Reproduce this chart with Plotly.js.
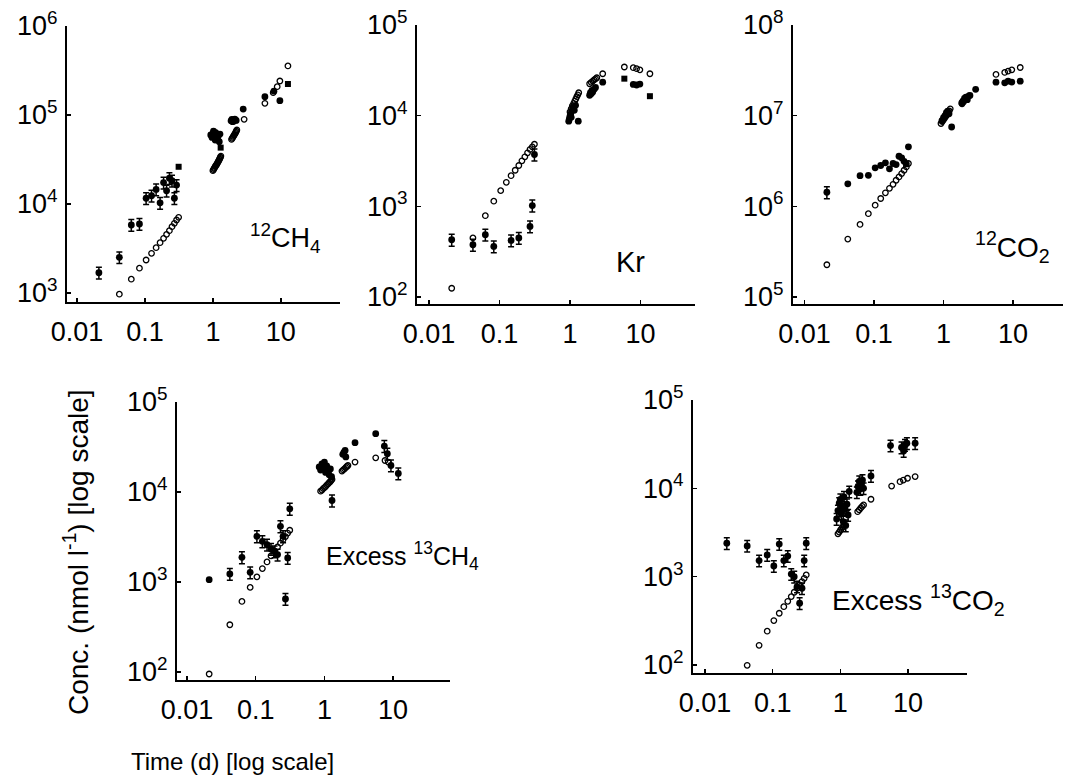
<!DOCTYPE html>
<html>
<head>
<meta charset="utf-8">
<script src="https://cdn.plot.ly/plotly-3.0.1.min.js"></script>
<style>
  html, body { margin: 0; padding: 0; background: #fff; }
  #chart { width: 1065px; height: 781px; }
</style>
</head>
<body>
<div id="chart"></div>
<script>
// ---------- data: time (d) and concentration (nmol l-1) ----------

// 12CH4
const ch4OpenT   = [0.042, 0.063, 0.083, 0.104, 0.125, 0.146, 0.167, 0.188, 0.208, 0.229, 0.25, 0.271, 0.292, 0.313,
                    1.0, 1.02, 1.04, 1.06, 1.08, 1.1, 1.13, 1.15, 1.17, 1.19, 1.21, 1.23, 1.25, 1.27, 1.29, 1.31,
                    1.88, 1.92, 1.96, 2.0, 2.04, 2.08, 2.13, 2.17, 2.21, 2.25,
                    2.88, 5.82, 7.71, 8.83, 9.67, 12.7];
const ch4OpenC   = [970, 1430, 1900, 2350, 2790, 3230, 3680, 4120, 4560, 5010, 5560, 6070, 6610, 7080,
                    23700, 24300, 25000, 25600, 26300, 26900, 27600, 28300, 29000, 29700, 30400, 31100, 31900, 32700, 33600, 34600,
                    53200, 54500, 56000, 57500, 59000, 60500, 62200, 64000, 66000, 67800,
                    89400, 135200, 178000, 208000, 241000, 356000];
const ch4ErrT    = [0.021, 0.042, 0.063, 0.083, 0.104, 0.125, 0.146, 0.167, 0.188, 0.208, 0.229, 0.25, 0.271, 0.292];
const ch4ErrC    = [1690, 2520, 5810, 5960, 11600, 12400, 14600, 10300, 17400, 14100, 19500, 18300, 11600, 16300];
const ch4FillT   = [0.93, 0.97, 1.0, 1.02, 1.05, 1.08, 1.1, 1.13, 1.17, 1.2, 1.24, 1.27,
                    1.85, 1.9, 1.95, 2.0, 2.05, 2.1, 2.2, 2.79, 5.82, 7.9, 9.67];
const ch4FillC   = [59600, 56000, 62200, 66000, 57000, 52300, 63500, 60000, 55000, 58500, 50100, 61000,
                    86000, 89400, 84100, 88000, 85500, 90000, 87000, 116700, 160600, 185000, 145000];
const ch4SqT     = [0.313, 1.3, 12.7];
const ch4SqC     = [26200, 43000, 223000];

// Kr
const krOpenT    = [0.021, 0.042, 0.063, 0.083, 0.104, 0.125, 0.146, 0.167, 0.188, 0.208, 0.229, 0.25, 0.271, 0.292, 0.313,
                    1.0, 1.04, 1.08, 1.13, 1.17, 1.21, 1.25, 1.29, 1.33,
                    1.9, 2.0, 2.1, 2.2, 2.3, 2.4, 2.91, 5.9, 7.9, 8.8, 9.8, 13.6];
const krOpenC    = [125, 448, 789, 1140, 1490, 1840, 2180, 2500, 2820, 3180, 3520, 3890, 4240, 4530, 4840,
                    11000, 11900, 12800, 13700, 14500, 15300, 16200, 17000, 17900,
                    22500, 23300, 24100, 24800, 25500, 26200, 29000, 34400, 33800, 33000, 32000, 29000];
const krErrT     = [0.021, 0.042, 0.063, 0.083, 0.146, 0.188, 0.271, 0.292, 0.313];
const krErrC     = [428, 377, 487, 361, 421, 448, 601, 1020, 3730];
const krFillT    = [0.96, 0.98, 1.0, 1.02, 1.04, 1.06, 1.1, 1.15, 1.2, 1.31,
                    1.9, 1.95, 2.0, 2.05, 2.1, 2.2, 2.3, 2.91, 7.9, 8.8, 9.8];
const krFillC    = [8700, 9300, 9900, 10400, 9600, 11200, 12300, 11500, 13000, 8700,
                    16800, 18000, 17400, 19000, 18300, 19500, 20500, 23400, 22100, 21800, 22300];
const krSqT      = [5.9, 13.6];
const krSqC      = [25600, 16400];

// 12CO2
const co2OpenT   = [0.021, 0.042, 0.063, 0.083, 0.104, 0.125, 0.146, 0.167, 0.188, 0.208, 0.229, 0.25, 0.271, 0.292, 0.313,
                    0.92, 0.96, 1.0, 1.04, 1.08, 1.13, 1.17, 1.21, 1.25,
                    1.85, 1.95, 2.05, 2.15, 2.3, 5.69, 7.6, 8.5, 9.6, 12.7];
const co2OpenC   = [227000, 436000, 632000, 830000, 1030000, 1220000, 1410000, 1580000, 1750000, 1940000, 2110000, 2300000, 2500000, 2720000, 2970000,
                    8200000, 8600000, 9000000, 9400000, 9800000, 10300000, 10800000, 11300000, 11900000,
                    13500000, 14200000, 15000000, 15700000, 16500000, 28500000, 30000000, 31000000, 32000000, 34000000];
const co2ErrT    = [0.021];
const co2ErrC    = [1430000];
const co2FillT   = [0.042, 0.063, 0.083, 0.104, 0.125, 0.146, 0.167, 0.188, 0.208, 0.229, 0.25, 0.271, 0.292, 0.313,
                    0.95, 1.0, 1.05, 1.1, 1.15, 1.2, 1.31,
                    1.83, 1.9, 2.0, 2.1, 2.2, 2.4, 2.9, 5.69, 7.6, 8.5, 9.6, 12.7];
const co2FillC   = [1770000, 2180000, 2200000, 2660000, 2820000, 3020000, 2590000, 2970000, 2890000, 3570000, 3430000, 3140000, 2940000, 4530000,
                    8800000, 9500000, 10000000, 10800000, 11200000, 10500000, 7500000,
                    13800000, 14500000, 15500000, 16000000, 15000000, 16700000, 19500000, 23400000, 23000000, 24000000, 23500000, 24000000];

// Excess 13CH4
const xch4OpenT  = [0.021, 0.042, 0.063, 0.083, 0.104, 0.125, 0.146, 0.167, 0.188, 0.208, 0.229, 0.25, 0.271, 0.292, 0.313,
                    0.88, 0.92, 0.96, 1.0, 1.04, 1.08, 1.13, 1.17, 1.21, 1.25, 1.29,
                    1.8, 1.88, 1.96, 2.04, 2.12, 2.2, 2.79, 5.58, 7.62, 8.5];
const xch4OpenC  = [95, 335, 608, 871, 1140, 1410, 1670, 1950, 2200, 2450, 2700, 2950, 3200, 3500, 3760,
                    10200, 10500, 10900, 11200, 11500, 11900, 12300, 12700, 13000, 13400, 13800,
                    17100, 17600, 18100, 18700, 19200, 19700, 21500, 24000, 22400, 21500];
const xch4ErrT   = [0.042, 0.063, 0.083, 0.104, 0.125, 0.146, 0.167, 0.188, 0.208, 0.229, 0.25, 0.271, 0.292, 0.313,
                    1.29, 7.45, 8.24, 9.3, 11.9];
const xch4ErrC   = [1228, 1880, 1280, 3220, 2830, 2600, 2330, 2190, 2015, 4160, 3220, 647, 1850, 6500,
                    8040, 32400, 26600, 19700, 16100];
const xch4FillT  = [0.021, 0.84, 0.88, 0.92, 0.96, 1.0, 1.04, 1.08, 1.13, 1.17, 1.22, 1.27,
                    1.85, 1.92, 2.0, 2.05, 2.79, 5.58];
const xch4FillC  = [1061, 19000, 17500, 20500, 18500, 21500, 16500, 19500, 17000, 15500, 18000, 14800,
                    26200, 27500, 29000, 24500, 35300, 44500];

// Excess 13CO2
const xco2OpenT  = [0.042, 0.063, 0.083, 0.104, 0.125, 0.146, 0.167, 0.188, 0.208, 0.229, 0.25, 0.271, 0.292, 0.313,
                    0.92, 0.96, 1.0, 1.04, 1.08, 1.13,
                    1.8, 1.9, 2.0, 2.1, 2.2, 2.83, 5.71, 7.6, 8.5, 9.8, 12.7];
const xco2OpenC  = [99, 167, 241, 318, 385, 457, 526, 594, 666, 739, 806, 879, 958, 1045,
                    3050, 3200, 3350, 3500, 3650, 3800,
                    5440, 5700, 6000, 6250, 6490, 7520, 10600, 11900, 12400, 13000, 13600];
const xco2ErrT   = [0.021, 0.042, 0.063, 0.083, 0.104, 0.125, 0.146, 0.167, 0.188, 0.208, 0.229, 0.25, 0.271, 0.292, 0.313,
                    0.88, 0.92, 0.96, 1.0, 1.03, 1.06, 1.1, 1.13, 1.17, 1.2, 1.25, 1.3, 1.35,
                    1.75, 1.82, 1.9, 1.97, 2.05, 2.12, 2.2, 2.83,
                    5.5, 8.0, 8.6, 9.0, 9.6, 12.7];
const xco2ErrC   = [2390, 2230, 1520, 1760, 1320, 2340, 1520, 1710, 1070, 1000, 771, 500, 739, 1520, 2390,
                    4500, 5600, 6800, 7500, 5200, 6200, 4200, 8000, 5800, 3800, 6600, 5000, 9200,
                    9000, 10500, 12000, 9800, 11200, 12400, 10000, 13800,
                    30500, 29000, 26500, 31000, 32400, 32400];

// axis tick labels
const timeTicks  = [0.01, 0.1, 1, 10];
const timeLabels = ['0.01', '0.1', '1', '10'];
const decadeExps = [2, 3, 4, 5, 6, 7, 8];

// ---------- drawing ----------
const W = 1065, H = 781;
const FONT = '"Liberation Sans", Arial, Helvetica, sans-serif';
const INK = '#000';
const TICK_SIZE = 27;

function markerFor(kind) {
  if (kind === 'open')   return { symbol: 'circle-open', size: 5.5, color: INK, line: { width: 1.3, color: INK } };
  if (kind === 'square') return { symbol: 'square', size: 6, color: INK };
  return { symbol: 'circle', size: 6.8, color: INK };
}

function series(t, c, axisId, kind) {
  const tr = {
    x: t, y: c, type: 'scatter', mode: 'markers',
    xaxis: 'x' + axisId, yaxis: 'y' + axisId,
    marker: markerFor(kind), hoverinfo: 'x+y', showlegend: false
  };
  if (kind === 'err') {
    tr.error_y = { type: 'percent', value: 15, color: INK, thickness: 1.5, width: 3 };
  }
  return tr;
}

function xAxis(p0, p1, range, anchor) {
  return {
    domain: [p0 / W, p1 / W], range: range, type: 'log', anchor: anchor,
    tickmode: 'array', tickvals: timeTicks, ticktext: timeLabels,
    showline: true, linewidth: 2, linecolor: INK,
    ticks: 'inside', ticklen: 4, tickwidth: 1.5, tickcolor: INK,
    showgrid: false, zeroline: false, ticklabelstandoff: 5,
    tickfont: { family: FONT, size: TICK_SIZE, color: INK }, fixedrange: true
  };
}

function yAxis(top, bottom, range, anchor) {
  const vals = decadeExps.map(e => Math.pow(10, e));
  const txt = decadeExps.map(e => '10<sup>' + e + '</sup>');
  return {
    domain: [1 - bottom / H, 1 - top / H], range: range, type: 'log', anchor: anchor,
    tickmode: 'array', tickvals: vals, ticktext: txt,
    showline: true, linewidth: 2, linecolor: INK,
    ticks: 'inside', ticklen: 4, tickwidth: 1.5, tickcolor: INK,
    showgrid: false, zeroline: false, ticklabelstandoff: 2,
    tickfont: { family: FONT, size: TICK_SIZE, color: INK }, fixedrange: true
  };
}

const traces = [
  series(ch4OpenT, ch4OpenC, '', 'open'),
  series(ch4FillT, ch4FillC, '', 'fill'),
  series(ch4ErrT, ch4ErrC, '', 'err'),
  series(ch4SqT, ch4SqC, '', 'square'),

  series(krOpenT, krOpenC, '2', 'open'),
  series(krFillT, krFillC, '2', 'fill'),
  series(krErrT, krErrC, '2', 'err'),
  series(krSqT, krSqC, '2', 'square'),

  series(co2OpenT, co2OpenC, '3', 'open'),
  series(co2FillT, co2FillC, '3', 'fill'),
  series(co2ErrT, co2ErrC, '3', 'err'),

  series(xch4OpenT, xch4OpenC, '4', 'open'),
  series(xch4FillT, xch4FillC, '4', 'fill'),
  series(xch4ErrT, xch4ErrC, '4', 'err'),

  series(xco2OpenT, xco2OpenC, '5', 'open'),
  series(xco2ErrT, xco2ErrC, '5', 'err')
];

function label(text, px, py, size, extra) {
  return Object.assign({
    text: text, x: px / W, y: 1 - py / H, xref: 'paper', yref: 'paper',
    xanchor: 'left', yanchor: 'middle', showarrow: false,
    font: { family: FONT, size: size, color: INK }
  }, extra || {});
}

const layout = {
  width: W, height: H,
  margin: { l: 0, r: 0, t: 0, b: 0 },
  paper_bgcolor: '#fff', plot_bgcolor: 'rgba(0,0,0,0)',
  showlegend: false,
  xaxis:  xAxis(67, 340, [-2.147, 1.87], 'y'),
  yaxis:  yAxis(26, 302, [2.899, 6], 'x'),
  xaxis2: xAxis(417, 695, [-2.170, 1.773], 'y2'),
  yaxis2: yAxis(25, 304, [1.923, 5], 'x2'),
  xaxis3: xAxis(793, 1063, [-2.165, 1.719], 'y3'),
  yaxis3: yAxis(25, 304, [4.923, 8], 'x3'),
  xaxis4: xAxis(177, 450, [-2.146, 1.828], 'y4'),
  yaxis4: yAxis(402, 680, [1.911, 5], 'x4'),
  xaxis5: xAxis(693, 967, [-2.177, 1.870], 'y5'),
  yaxis5: yAxis(400, 673, [1.909, 5], 'x5'),
  annotations: [
    label('<sup>12</sup>CH<sub>4</sub>', 248, 238, 27),
    label('Kr', 614, 262, 29),
    label('<sup>12</sup>CO<sub>2</sub>', 973, 247, 28),
    label('Excess <sup>13</sup>CH<sub>4</sub>', 324, 556, 25),
    label('Excess <sup>13</sup>CO<sub>2</sub>', 830, 600, 28),
    label('Time (d) [log scale]', 232, 761, 24, { xanchor: 'center' }),
    label('Conc. (nmol l<sup>-1</sup>) [log scale]', 76, 552, 28, { xanchor: 'center', textangle: -90 })
  ]
};

Plotly.newPlot('chart', traces, layout, { staticPlot: true, displayModeBar: false });
</script>
</body>
</html>
